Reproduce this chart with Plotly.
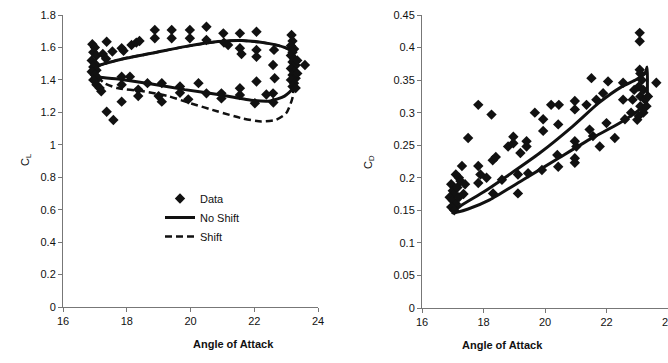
import plotly.graph_objects as go

W, H = 668, 363

# ---- Lift coefficient vs angle of attack ----
cl_aoa = [16.92, 17.0, 16.95, 17.05, 16.9, 17.0, 16.95, 17.05, 16.9, 17.0, 17.1, 16.95, 17.05, 17.15, 17.2,
          17.25, 17.35, 17.37, 17.55, 17.84, 17.9, 18.15, 18.3, 18.4,
          18.88, 18.88, 19.41, 19.41, 19.98, 19.98, 20.5, 20.5, 21.03, 21.18, 21.05, 21.55, 21.55, 21.6,
          22.07, 22.07, 22.07, 22.59, 22.62, 22.64, 22.07, 22.59, 22.38,
          23.17, 23.2, 23.15, 23.25, 23.2, 23.15, 23.25, 23.2, 23.3, 23.15, 23.25, 23.2, 23.3, 23.15,
          23.25, 23.2, 23.3, 23.35, 23.35, 23.59,
          17.37, 17.58, 17.84, 17.84, 18.1, 17.84, 18.36, 18.36, 18.65, 19.0, 19.1, 19.1, 19.67, 19.67,
          19.93, 20.25, 20.5, 20.97, 20.97, 21.55, 21.55, 22.02, 22.6]
cl_val = [1.62, 1.60, 1.57, 1.55, 1.52, 1.50, 1.48, 1.46, 1.45, 1.43, 1.41, 1.40, 1.37, 1.35, 1.33,
          1.56, 1.53, 1.635, 1.575, 1.595, 1.58, 1.615, 1.63, 1.64,
          1.708, 1.657, 1.708, 1.657, 1.708, 1.657, 1.728, 1.646, 1.687, 1.615, 1.63, 1.687, 1.595, 1.56,
          1.697, 1.585, 1.543, 1.492, 1.585, 1.41, 1.39, 1.317, 1.31,
          1.677, 1.64, 1.61, 1.59, 1.57, 1.55, 1.53, 1.51, 1.49, 1.47, 1.45, 1.43, 1.41, 1.40,
          1.38, 1.36, 1.35, 1.44, 1.52, 1.492,
          1.204, 1.153, 1.42, 1.37, 1.42, 1.266, 1.34, 1.30, 1.38, 1.30, 1.266, 1.38, 1.36, 1.32,
          1.28, 1.38, 1.317, 1.317, 1.286, 1.348, 1.307, 1.256, 1.26]

# model loop without shift (pitch-up branch, then pitch-down branch)
cl_noshift_aoa = [16.95, 17.16, 17.4, 18.0, 18.78, 19.82, 20.86, 21.6, 22.43, 22.95, 23.2, 23.25,
                  23.22, 22.95, 22.5, 21.9, 20.86, 19.82, 18.78, 17.73, 17.1, 16.95]
cl_noshift = [1.45, 1.49, 1.505, 1.535, 1.564, 1.605, 1.636, 1.643, 1.625, 1.60, 1.57, 1.45,
              1.35, 1.30, 1.27, 1.275, 1.31, 1.34, 1.375, 1.405, 1.42, 1.45]

# model loop with shift
cl_shift_aoa = [16.95, 17.16, 17.4, 18.0, 18.78, 19.82, 20.86, 21.6, 22.43, 22.95, 23.2, 23.25,
                23.2, 23.0, 22.68, 22.22, 21.6, 20.86, 20.0, 19.3, 18.5, 17.7, 17.3, 16.95]
cl_shift = [1.45, 1.49, 1.505, 1.535, 1.564, 1.605, 1.636, 1.643, 1.625, 1.60, 1.57, 1.45,
            1.29, 1.194, 1.154, 1.144, 1.164, 1.205, 1.256, 1.30, 1.33, 1.35, 1.38, 1.45]

# ---- Drag coefficient vs angle of attack ----
cd_aoa = [16.95, 17.0, 17.05, 16.9, 17.0, 17.1, 16.95, 17.05, 17.15, 17.2, 17.1, 17.3, 17.25, 17.2, 17.4, 17.35,
          17.5, 17.83, 17.83, 17.83, 18.1, 17.9, 18.26, 18.3, 18.4, 18.31, 18.6, 18.8, 18.97, 18.97,
          19.12, 19.12, 19.2, 19.4, 19.4, 19.45, 19.67, 19.94, 19.94, 19.9, 20.2, 20.45, 20.43, 20.4,
          20.43, 20.97, 20.97, 20.97, 20.97, 21.02, 20.97, 21.35, 21.45, 21.56, 21.51, 21.67, 21.78,
          21.89, 22.05, 22.0, 22.27, 22.54, 22.54, 22.6, 22.8, 23.0,
          23.08, 23.08, 23.08, 23.1, 23.15, 23.05, 23.2, 23.1, 23.25, 23.1, 23.2, 23.05, 23.3, 23.35,
          23.62, 22.9, 22.85]
cd_val = [0.19, 0.18, 0.175, 0.17, 0.165, 0.16, 0.155, 0.15, 0.185, 0.20, 0.205, 0.218, 0.195, 0.17, 0.19, 0.175,
          0.261, 0.312, 0.218, 0.192, 0.20, 0.205, 0.297, 0.227, 0.232, 0.176, 0.197, 0.248, 0.263, 0.253,
          0.205, 0.176, 0.238, 0.256, 0.248, 0.207, 0.30, 0.29, 0.272, 0.212, 0.312, 0.312, 0.282, 0.235,
          0.217, 0.318, 0.305, 0.23, 0.256, 0.248, 0.223, 0.312, 0.274, 0.264, 0.353, 0.32, 0.248,
          0.33, 0.348, 0.284, 0.261, 0.346, 0.32, 0.29, 0.30, 0.289,
          0.4226, 0.4097, 0.366, 0.36, 0.35, 0.34, 0.335, 0.325, 0.32, 0.31, 0.30, 0.295, 0.31, 0.325,
          0.346, 0.335, 0.32]

cd_model_aoa = [17.0, 17.23, 18.0, 18.75, 19.83, 20.9, 21.75, 22.5, 22.97, 23.25, 23.32, 23.33, 23.3,
                23.08, 22.43, 21.45, 20.37, 19.29, 18.2, 17.5, 17.0]
cd_model = [0.146, 0.156, 0.178, 0.202, 0.238, 0.279, 0.315, 0.34, 0.351, 0.36, 0.37, 0.345, 0.315,
            0.305, 0.284, 0.259, 0.228, 0.197, 0.166, 0.152, 0.146]

FONT = "Liberation Sans, Arial, sans-serif"
INK = "#111111"
AXIS = "#777777"


def px_x(p):
    return p / W


def px_y(p):
    return 1 - p / H


fig = go.Figure()

fig.add_trace(go.Scatter(x=cl_shift_aoa, y=cl_shift, mode="lines", name="Shift", legendrank=3,
                         line=dict(color=INK, width=2.5, dash="7px,4px", shape="spline", smoothing=0.6),
                         xaxis="x", yaxis="y"))
fig.add_trace(go.Scatter(x=cl_noshift_aoa, y=cl_noshift, mode="lines", name="No Shift", legendrank=2,
                         line=dict(color=INK, width=3, shape="spline", smoothing=0.6),
                         xaxis="x", yaxis="y"))
fig.add_trace(go.Scatter(x=cl_aoa, y=cl_val, mode="markers", name="Data", legendrank=1,
                         marker=dict(symbol="diamond", size=8, color=INK),
                         xaxis="x", yaxis="y"))

fig.add_trace(go.Scatter(x=cd_model_aoa, y=cd_model, mode="lines", showlegend=False,
                         line=dict(color=INK, width=3, shape="spline", smoothing=0.6),
                         xaxis="x2", yaxis="y2"))
fig.add_trace(go.Scatter(x=cd_aoa, y=cd_val, mode="markers", showlegend=False,
                         marker=dict(symbol="diamond", size=8, color=INK),
                         xaxis="x2", yaxis="y2"))

axis_common = dict(showgrid=False, zeroline=False, showline=True, linecolor=AXIS, linewidth=1,
                   ticks="outside", ticklen=4, tickcolor=AXIS, tickwidth=1,
                   tickfont=dict(family=FONT, size=11, color=INK), automargin=False,
                   ticklabeloverflow="allow")

fig.update_layout(
    width=W, height=H,
    margin=dict(l=0, r=0, t=0, b=0),
    paper_bgcolor="white", plot_bgcolor="white",
    font=dict(family=FONT, color=INK, size=11),
    xaxis=dict(domain=[px_x(63), px_x(318)], range=[16, 24], dtick=2, tick0=16, anchor="y", **axis_common),
    yaxis=dict(domain=[px_y(307), px_y(15)], range=[0, 1.8], dtick=0.2, tick0=0, anchor="x", **axis_common),
    xaxis2=dict(domain=[px_x(422), 1.0], range=[16, 24], dtick=2, tick0=16, anchor="y2", **axis_common),
    yaxis2=dict(domain=[px_y(308), px_y(15)], range=[0, 0.45], dtick=0.05, tick0=0, anchor="x2", **axis_common),
    legend=dict(x=px_x(160), y=px_y(184), xanchor="left", yanchor="top", bgcolor="rgba(0,0,0,0)",
                font=dict(family=FONT, size=11, color=INK), tracegroupgap=0, itemwidth=30),
    annotations=[
        dict(text="<b>Angle of Attack</b>", x=px_x(191), y=px_y(352), xref="paper", yref="paper",
             showarrow=False, font=dict(family=FONT, size=11, color=INK)),
        dict(text="<b>Angle of Attack</b>", x=px_x(545), y=px_y(353), xref="paper", yref="paper",
             showarrow=False, font=dict(family=FONT, size=11, color=INK)),
        dict(text="C<sub>L</sub>", x=px_x(17), y=px_y(160), xref="paper", yref="paper", textangle=-90,
             showarrow=False, font=dict(family=FONT, size=11, color=INK)),
        dict(text="C<sub>D</sub>", x=px_x(369), y=px_y(162), xref="paper", yref="paper", textangle=-90,
             showarrow=False, font=dict(family=FONT, size=11, color=INK)),
    ],
)

fig.write_html("out.html")
